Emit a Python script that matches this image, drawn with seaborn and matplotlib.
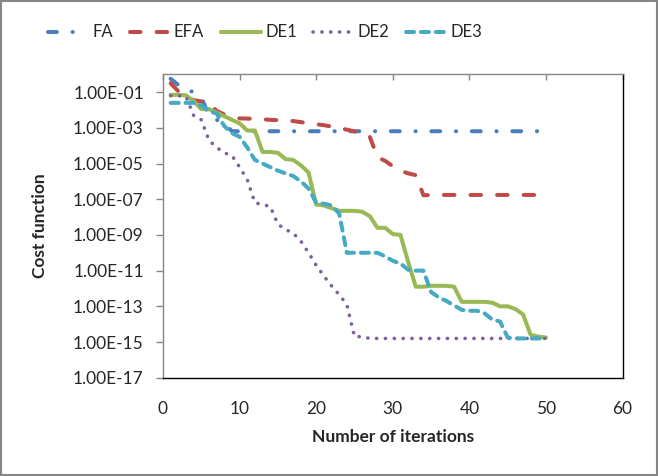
import numpy as np
import pandas as pd
import seaborn as sns
import matplotlib.pyplot as plt
from matplotlib.patches import Rectangle
from matplotlib.ticker import FixedLocator, FuncFormatter, NullLocator

# iteration numbers
iterations = list(range(1, 51))

# log10 of the cost function
fa_log = [-0.25, -0.6, -0.85, -1.0, -1.3, -2.3, -2.55, -2.75, -3.19, -3.19,
          -3.19, -3.19, -3.19, -3.19, -3.19, -3.19, -3.19, -3.19, -3.19, -3.19,
          -3.19, -3.19, -3.19, -3.19, -3.19, -3.19, -3.19, -3.19, -3.19, -3.19,
          -3.19, -3.19, -3.19, -3.19, -3.19, -3.19, -3.19, -3.19, -3.19, -3.19,
          -3.19, -3.19, -3.19, -3.19, -3.19, -3.19, -3.19, -3.19, -3.19, -3.19]
efa_log = [-0.5, -0.95, -1.3, -1.45, -1.52, -1.6, -2.05, -2.25, -2.4, -2.47,
           -2.48, -2.5, -2.52, -2.55, -2.57, -2.6, -2.62, -2.68, -2.74, -2.8,
           -2.85, -2.93, -3.02, -3.1, -3.2, -3.28, -3.5, -4.65, -4.85, -5.15,
           -5.4, -5.55, -5.65, -6.78, -6.76, -6.76, -6.76, -6.76, -6.76, -6.76,
           -6.76, -6.76, -6.76, -6.76, -6.76, -6.76, -6.76, -6.76, -6.76, -6.76]
de1_log = [-1.15, -1.15, -1.18, -1.5, -1.95, -1.95, -2.15, -2.35, -2.55, -2.75,
           -3.15, -3.15, -4.35, -4.35, -4.4, -4.75, -4.8, -5.1, -5.5, -7.3,
           -7.35, -7.5, -7.65, -7.65, -7.65, -7.7, -7.95, -8.6, -8.6, -8.95,
           -9.0, -10.5, -11.9, -11.9, -11.85, -11.85, -11.85, -11.9, -12.75, -12.75,
           -12.75, -12.75, -12.8, -13.0, -13.0, -13.15, -13.45, -14.6, -14.7, -14.75]
de2_log = [-1.2, -1.2, -1.25, -2.3, -2.55, -3.7, -4.1, -4.4, -4.55, -5.2,
           -5.9, -7.2, -7.3, -7.4, -8.4, -8.7, -8.9, -9.35, -10.0, -10.7,
           -11.3, -11.85, -12.35, -12.9, -14.7, -14.7, -14.8, -14.8, -14.8, -14.8,
           -14.8, -14.8, -14.8, -14.8, -14.8, -14.8, -14.8, -14.8, -14.8, -14.8,
           -14.8, -14.8, -14.8, -14.8, -14.8, -14.8, -14.8, -14.8, -14.8, -14.8]
de3_log = [-1.6, -1.6, -1.6, -1.6, -1.75, -2.05, -2.2, -2.9, -3.3, -3.5,
           -4.1, -4.8, -5.0, -5.2, -5.4, -5.55, -5.7, -6.0, -6.4, -7.2,
           -7.25, -7.35, -7.8, -10.0, -10.0, -10.0, -10.0, -10.0, -10.2, -10.45,
           -10.6, -10.95, -11.0, -11.0, -12.2, -12.5, -12.7, -12.95, -13.2, -13.25,
           -13.25, -13.4, -13.75, -13.85, -14.75, -14.8, -14.8, -14.8, -14.8, -14.8]

names = ["FA", "EFA", "DE1", "DE2", "DE3"]
series = [fa_log, efa_log, de1_log, de2_log, de3_log]
colors = ["#4A7EBB", "#BE4B48", "#98B954", "#7D60A0", "#46AAC5"]

x_ticks = [0, 10, 20, 30, 40, 50, 60]
y_ticks = [1e-17, 1e-15, 1e-13, 1e-11, 1e-9, 1e-7, 1e-5, 1e-3, 1e-1]

frames = []
for name, vals in zip(names, series):
    frames.append(pd.DataFrame({"iteration": iterations,
                                "cost": 10.0 ** np.array(vals),
                                "algorithm": name}))
df = pd.concat(frames, ignore_index=True)

sns.set_theme(style="white")
plt.rcParams["font.family"] = ["Lato", "DejaVu Sans"]

fig = plt.figure(figsize=(6.58, 4.76), dpi=100)
ax = fig.add_axes([0.2477, 0.2065, 0.6985, 0.6374])

styles = {
    "FA": dict(linestyle=(0, (2.2, 3.9, 0.05, 3.9)), linewidth=2.9),
    "EFA": dict(linestyle=(0, (2.6, 4.0)), linewidth=2.9),
    "DE1": dict(linestyle="-", linewidth=2.9),
    "DE2": dict(linestyle=(0, (0.05, 2.4)), linewidth=2.6),
    "DE3": dict(linestyle=(0, (2.0, 1.7)), linewidth=2.9),
}

for name, color in zip(names, colors):
    sns.lineplot(data=df[df["algorithm"] == name], x="iteration", y="cost",
                 color=color, label=name, ax=ax, errorbar=None,
                 dash_capstyle="round", solid_capstyle="round",
                 **styles[name])

ax.set_yscale("log")
ax.set_ylim(1e-17, 1e0)
ax.set_xlim(0, 60)
ax.yaxis.set_major_locator(FixedLocator(y_ticks))
ax.yaxis.set_minor_locator(NullLocator())
ax.yaxis.set_major_formatter(FuncFormatter(lambda v, p: f"{v:.2E}"))
ax.set_xticks(x_ticks)

ax.tick_params(axis="x", top=True, bottom=False, labeltop=False, labelbottom=True,
               direction="in", length=4.5, width=1, color="#868686",
               labelsize=12.5, pad=17)
ax.tick_params(axis="y", left=True, direction="out", length=4.8, width=1,
               color="#868686", labelsize=12.5, pad=9)

for side in ["top", "left"]:
    ax.spines[side].set_color("#868686")
    ax.spines[side].set_linewidth(1)
for side in ["bottom", "right"]:
    ax.spines[side].set_color("black")
    ax.spines[side].set_linewidth(1)

ax.set_xlabel("Number of iterations", fontsize=12.5, fontweight="bold", va="center")
ax.set_ylabel("Cost function", fontsize=12.5, fontweight="bold", va="center")
ax.xaxis.set_label_coords(0.5, -0.194)
ax.yaxis.set_label_coords(-0.267, 0.5)
ax.grid(False)

handles, labels = ax.get_legend_handles_labels()
ax.legend(handles, labels, ncol=5, loc="center", bbox_to_anchor=(0.403, 0.932),
          bbox_transform=fig.transFigure, frameon=False, fontsize=12,
          handlelength=2.4, handletextpad=0.25, columnspacing=1.0)

fig.patches.append(Rectangle((0.0015, 0.002), 0.997, 0.996, transform=fig.transFigure,
                             fill=False, edgecolor="#868686", linewidth=1.5))

fig.savefig("out.png", dpi=100)
